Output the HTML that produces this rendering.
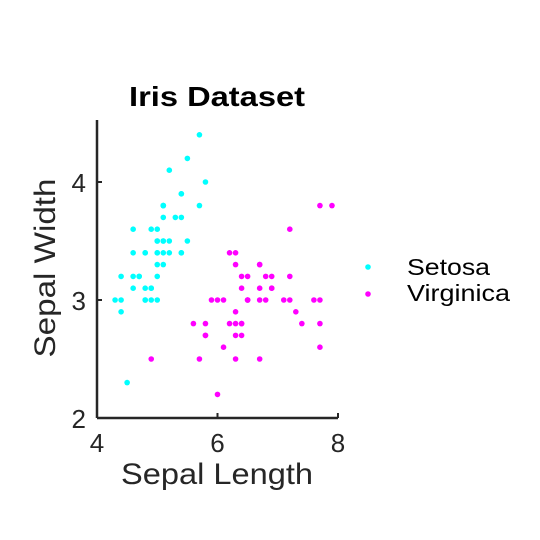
<!DOCTYPE html>
<html><head><meta charset="utf-8"><style>
html,body{margin:0;padding:0;background:#fff;}
svg{display:block;font-family:"Liberation Sans",Arial,sans-serif;}
</style></head><body>
<svg id="chart" width="540" height="540" viewBox="0 0 540 540">
<rect width="540" height="540" fill="#fff"/>
<text x="217" y="106" text-anchor="middle" font-size="28" font-weight="bold" fill="#000" textLength="176" lengthAdjust="spacingAndGlyphs">Iris Dataset</text>
<g id="points"></g>
<g id="axes"></g>
<text x="217" y="484" text-anchor="middle" font-size="30" fill="#262626" textLength="192" lengthAdjust="spacingAndGlyphs">Sepal Length</text>
<text transform="translate(55,268) rotate(-90)" text-anchor="middle" font-size="30" fill="#262626" textLength="179" lengthAdjust="spacingAndGlyphs">Sepal Width</text>
<g>
<g><circle cx="368" cy="267" r="2.8" fill="#00ffff"/><text x="407" y="275" font-size="23" fill="#000" textLength="83" lengthAdjust="spacingAndGlyphs">Setosa</text></g>
<g><circle cx="368" cy="294" r="2.8" fill="#ff00ff"/><text x="407" y="301" font-size="23" fill="#000" textLength="103" lengthAdjust="spacingAndGlyphs">Virginica</text></g>
</g>
</svg>
<script>
const setosaX=[5.1,4.9,4.7,4.6,5.0,5.4,4.6,5.0,4.4,4.9,5.4,4.8,4.8,4.3,5.8,5.7,5.4,5.1,5.7,5.1,5.4,5.1,4.6,5.1,4.8,5.0,5.0,5.2,5.2,4.7,4.8,5.4,5.2,5.5,4.9,5.0,5.5,4.9,4.4,5.1,5.0,4.5,4.4,5.0,5.1,4.8,5.1,4.6,5.3,5.0];
const setosaY=[3.5,3.0,3.2,3.1,3.6,3.9,3.4,3.4,2.9,3.1,3.7,3.4,3.0,3.0,4.0,4.4,3.9,3.5,3.8,3.8,3.4,3.7,3.6,3.3,3.4,3.0,3.4,3.5,3.4,3.2,3.1,3.4,4.1,4.2,3.1,3.2,3.5,3.6,3.0,3.4,3.5,2.3,3.2,3.5,3.8,3.0,3.8,3.2,3.7,3.3];
const virginicaX=[6.3,5.8,7.1,6.3,6.5,7.6,4.9,7.3,6.7,7.2,6.5,6.4,6.8,5.7,5.8,6.4,6.5,7.7,7.7,6.0,6.9,5.6,7.7,6.3,6.7,7.2,6.2,6.1,6.4,7.2,7.4,7.9,6.4,6.3,6.1,7.7,6.3,6.4,6.0,6.9,6.7,6.9,5.8,6.8,6.7,6.7,6.3,6.5,6.2,5.9];
const virginicaY=[3.3,2.7,3.0,2.9,3.0,3.0,2.5,2.9,2.5,3.6,3.2,2.7,3.0,2.5,2.8,3.2,3.0,3.8,2.6,2.2,3.2,2.8,2.8,2.7,3.3,3.2,2.8,3.0,2.8,3.0,2.8,3.8,2.8,2.8,2.6,3.0,3.4,3.1,3.0,3.1,3.1,3.1,2.7,3.2,3.3,3.0,2.5,3.0,3.4,3.0];
const xTicks=[4,6,8];
const yTicks=[2,3,4];
const ns="http://www.w3.org/2000/svg";
const X0=97,X1=338,Y0=418,Y1=123;
function sx(v){return X0+(v-4)/(8-4)*(X1-X0);}
function sy(v){return Y0-(v-2)/(4.5-2)*(Y0-Y1);}
const pts=document.getElementById('points');
function plot(xs,ys,color,name){
  xs.forEach((x,i)=>{
    const c=document.createElementNS(ns,'circle');
    c.setAttribute('cx',sx(x));c.setAttribute('cy',sy(ys[i]));c.setAttribute('r',2.8);c.setAttribute('fill',color);
    
    
    pts.appendChild(c);
  });
}
plot(setosaX,setosaY,'#00ffff','setosa');
plot(virginicaX,virginicaY,'#ff00ff','virginica');
const ax=document.getElementById('axes');
function el(tag,attrs){const e=document.createElementNS(ns,tag);for(const k in attrs)e.setAttribute(k,attrs[k]);ax.appendChild(e);return e;}
const xl=el('line',{x1:X0,y1:Y0,x2:X1,y2:Y0,stroke:'#262626','stroke-width':2.5});


const yl=el('line',{x1:X0,y1:Y0,x2:X0,y2:Y1-3,stroke:'#262626','stroke-width':2.5});


xTicks.forEach(t=>{
  const l=el('line',{x1:sx(t),y1:Y0,x2:sx(t),y2:Y0-5,stroke:'#262626','stroke-width':2});
  
  
  const tx=el('text',{x:sx(t),y:Y0+34,'text-anchor':'middle','font-size':26,fill:'#262626'});
  tx.textContent=t;
  
  
});
yTicks.forEach(t=>{
  const l=el('line',{x1:X0,y1:sy(t),x2:X0+5,y2:sy(t),stroke:'#262626','stroke-width':2});
  
  
  const tx=el('text',{x:X0-11,y:sy(t)+10,'text-anchor':'end','font-size':26,fill:'#262626'});
  tx.textContent=t;
  
  
});
</script>
</body></html>
